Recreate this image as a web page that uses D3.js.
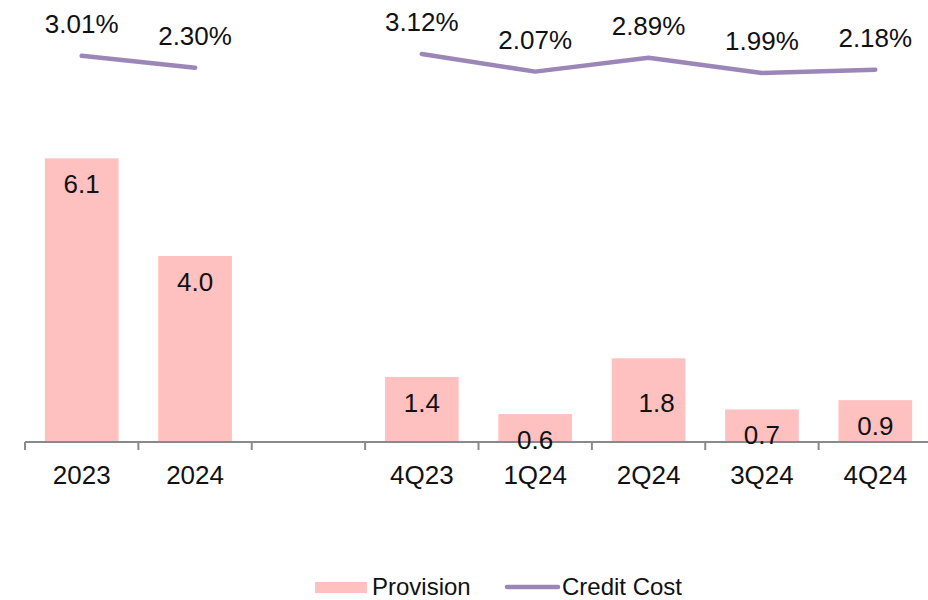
<!DOCTYPE html>
<html>
<head>
<meta charset="utf-8">
<script src="https://cdn.jsdelivr.net/npm/d3@7"></script>
<style>
  body { margin: 0; background: #fff; }
  text { font-family: Arial, "Liberation Sans", sans-serif; fill: #111; }
</style>
</head>
<body>
<div id="chart"></div>
<script>
// categories (the empty slot keeps the gap between years and quarters)
const categories = ["2023", "2024", "", "4Q23", "1Q24", "2Q24", "3Q24", "4Q24"]
const provision = [6.1, 4.0, null, 1.4, 0.6, 1.8, 0.7, 0.9]
const creditCost = [3.01, 2.30, null, 3.12, 2.07, 2.89, 1.99, 2.18]

const WIDTH = 928, HEIGHT = 600
const BASE = 442

const data = categories.map((c, i) => ({ key: i, name: c, prov: provision[i], cc: creditCost[i] }))

const svg = d3.select("#chart").append("svg")
  .attr("width", WIDTH)
  .attr("height", HEIGHT)

const x = d3.scaleBand()
  .domain(data.map(d => d.key))
  .range([25, 932])
  .paddingInner(0.35)
  .paddingOuter(0.175)

const y = d3.scaleLinear().domain([0, 8]).range([BASE, 70])
const y2 = d3.scaleLinear().domain([1.5, 3.5]).range([81.2, 47.6])

const step = x.step()
const cx = d => x(d.key) + x.bandwidth() / 2

// bars
svg.append("g").selectAll("rect")
  .data(data.filter(d => d.prov != null))
  .enter().append("rect")
  .attr("x", d => x(d.key))
  .attr("y", d => y(d.prov))
  .attr("width", x.bandwidth())
  .attr("height", d => y(0) - y(d.prov))
  .attr("fill", "#ffc0c0")

// x axis
const xAxis = d3.axisBottom(x).tickSize(0).tickFormat(k => categories[k])
const xg = svg.append("g")
  .attr("transform", `translate(0, ${BASE})`)
  .call(xAxis)
xg.select(".domain").attr("stroke", "#8a8a8a").attr("stroke-width", 2)
  .attr("d", `M25,0H928`)
xg.selectAll(".tick text")
  .attr("y", 42)
  .attr("dy", 0)
  .attr("font-size", "26px")
  .attr("fill", "#111")
  .attr("font-family", "Arial, 'Liberation Sans', sans-serif")
// boundary ticks between slots
xg.selectAll(".sep")
  .data(data)
  .enter().append("line")
  .attr("class", "sep")
  .attr("x1", d => x(d.key) - step * 0.175)
  .attr("x2", d => x(d.key) - step * 0.175)
  .attr("y1", 0).attr("y2", 8)
  .attr("stroke", "#8a8a8a").attr("stroke-width", 2)

// bar labels (2Q24 label sits a bit lower/right in the original)
svg.append("g").selectAll("text")
  .data(data.filter(d => d.prov != null))
  .enter().append("text")
  .attr("x", d => cx(d) + (d.name === "2Q24" ? 8 : 0))
  .attr("y", d => y(d.prov) + (d.name === "2Q24" ? 54 : 35))
  .attr("text-anchor", "middle")
  .attr("font-size", "26px")
  .text(d => d.prov.toFixed(1))

// credit cost line
const line = d3.line()
  .defined(d => d.cc != null)
  .x(cx)
  .y(d => y2(d.cc))
svg.append("path")
  .datum(data)
  .attr("d", line)
  .attr("fill", "none")
  .attr("stroke", "#9c86b8")
  .attr("stroke-width", 4.5)
  .attr("stroke-linecap", "round")
  .attr("stroke-linejoin", "round")

svg.append("g").selectAll("text")
  .data(data.filter(d => d.cc != null))
  .enter().append("text")
  .attr("x", cx)
  .attr("y", d => y2(d.cc) - 23)
  .attr("text-anchor", "middle")
  .attr("font-size", "26px")
  .text(d => d.cc.toFixed(2) + "%")

// legend
const legend = svg.append("g")
legend.append("rect")
  .attr("x", 315).attr("y", 582)
  .attr("width", 52).attr("height", 11)
  .attr("fill", "#ffc0c0")
legend.append("text")
  .attr("x", 372).attr("y", 595)
  .attr("font-size", "24px")
  .text("Provision")
legend.append("line")
  .attr("x1", 507).attr("x2", 558)
  .attr("y1", 587).attr("y2", 587)
  .attr("stroke", "#9c86b8")
  .attr("stroke-width", 4.5)
  .attr("stroke-linecap", "round")
legend.append("text")
  .attr("x", 562).attr("y", 595)
  .attr("font-size", "24px")
  .text("Credit Cost")
</script>
</body>
</html>
